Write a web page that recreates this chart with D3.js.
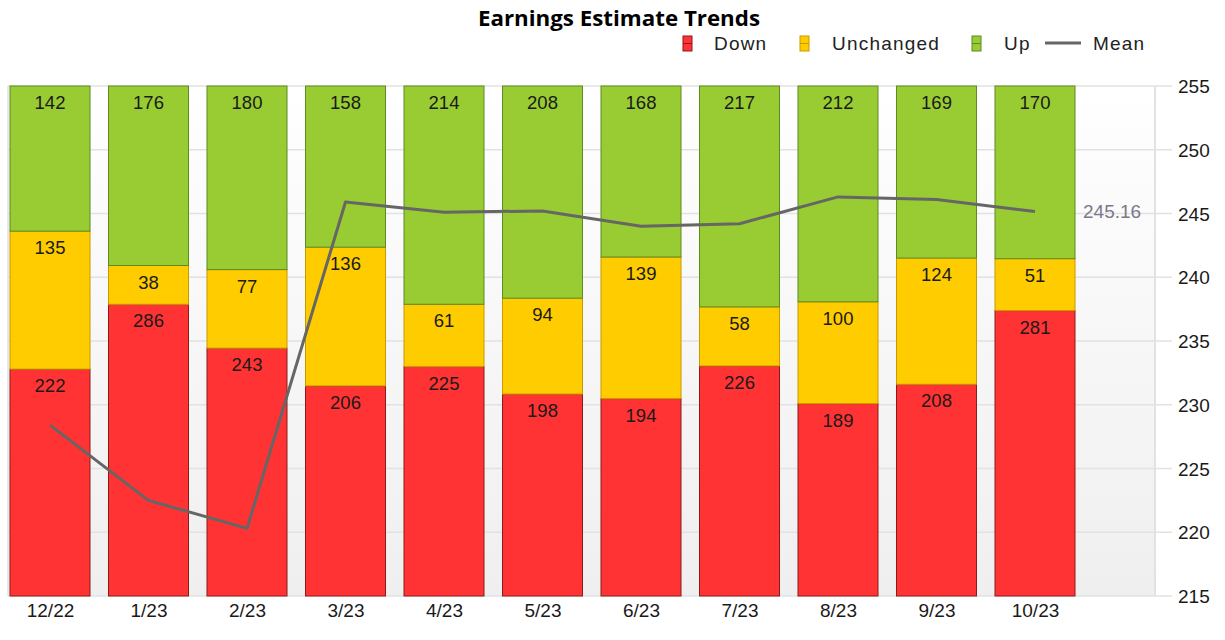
<!DOCTYPE html>
<html><head><meta charset="utf-8">
<script src="https://cdn.jsdelivr.net/npm/d3@7"></script>
<style>body{margin:0;background:#fff}svg{display:block}</style>
</head><body>
<svg id="c" width="1225" height="640"></svg>
<script>
const categories = ["12/22","1/23","2/23","3/23","4/23","5/23","6/23","7/23","8/23","9/23","10/23"];
const down = [222,286,243,206,225,198,194,226,189,208,281];
const unchanged = [135,38,77,136,61,94,139,58,100,124,51];
const up = [142,176,180,158,214,208,168,217,212,169,170];
const mean = [228.4,222.5,220.3,245.9,245.1,245.2,244.0,244.2,246.3,246.1,245.16];
const meanTicks = [215,220,225,230,235,240,245,250,255];
const seriesNames = ["Down","Unchanged","Up"];
const fills = {Down:"#ff3333",Unchanged:"#ffcc00",Up:"#99cc33"};
const strokes = {Down:"#8b1a1a",Unchanged:"#c79a00",Up:"#5f8a22"};

const svg = d3.select("#c");
const font = "'Liberation Sans', Arial, sans-serif";
const plot = {l:8, r:1155, t:86, b:596};

const table = categories.map((c,i)=>({cat:c, Down:down[i], Unchanged:unchanged[i], Up:up[i]}));
const stacked = d3.stack().keys(seriesNames).offset(d3.stackOffsetExpand)(table);

const x = d3.scalePoint().domain(categories).range([50,1035]);
const barW = 80;
const yPct = d3.scaleLinear().domain([0,1]).range([plot.b, plot.t]);
const yMean = d3.scaleLinear().domain([215,255]).range([plot.b, plot.t]);

// background gradient
const defs = svg.append("defs");
const g = defs.append("linearGradient").attr("id","bg").attr("x1",0).attr("y1",0).attr("x2",0).attr("y2",1);
g.append("stop").attr("offset","0%").attr("stop-color","#ffffff");
g.append("stop").attr("offset","100%").attr("stop-color","#efefef");
svg.append("rect").attr("x",plot.l).attr("y",plot.t).attr("width",plot.r-plot.l).attr("height",plot.b-plot.t).attr("fill","url(#bg)");

// gridlines + right axis
const axis = d3.axisRight(yMean).tickValues(meanTicks).tickSize(0).tickPadding(0);
const ax = svg.append("g").attr("transform",`translate(${1178},0)`).call(axis);
ax.select(".domain").remove();
ax.selectAll("text").attr("font-family",font).attr("font-size",19).attr("fill","#1a1a1a").attr("x",0).attr("dy","0.35em");
svg.append("g").selectAll("line").data(meanTicks).join("line")
  .attr("x1",plot.l).attr("x2",1172).attr("y1",d=>yMean(d)).attr("y2",d=>yMean(d))
  .attr("stroke","#e2e2e2").attr("stroke-width",1.5);
svg.append("line").attr("x1",plot.r).attr("x2",plot.r).attr("y1",plot.t).attr("y2",plot.b).attr("stroke","#e2e2e2").attr("stroke-width",2);
svg.append("line").attr("x1",plot.l).attr("x2",plot.l).attr("y1",plot.t).attr("y2",plot.b).attr("stroke","#e2e2e2").attr("stroke-width",1.5);

// bars
const layers = svg.append("g").selectAll("g").data(stacked).join("g");
layers.selectAll("rect").data(d=>d.map(p=>({key:d.key,p}))).join("rect")
  .attr("x",d=>x(d.p.data.cat)-barW/2).attr("width",barW)
  .attr("y",d=>yPct(d.p[1])).attr("height",d=>yPct(d.p[0])-yPct(d.p[1]))
  .attr("fill",d=>fills[d.key]).attr("stroke",d=>strokes[d.key]).attr("stroke-width",1);
layers.selectAll("text").data(d=>d.map(p=>({key:d.key,p}))).join("text")
  .attr("x",d=>x(d.p.data.cat)).attr("y",d=>yPct(d.p[1])+23)
  .attr("text-anchor","middle").attr("font-family",font).attr("font-size",18.5).attr("fill","#1a1a1a")
  .text(d=>d.p.data[d.key]);

// mean line
const line = d3.line().x((d,i)=>x(categories[i])).y(d=>yMean(d));
svg.append("path").datum(mean).attr("d",line).attr("fill","none").attr("stroke","#666").attr("stroke-width",3).attr("stroke-linejoin","round");
svg.append("text").attr("x",1083).attr("y",yMean(mean[mean.length-1])).attr("dy","0.35em")
  .attr("font-family",font).attr("font-size",19).attr("fill","#7a7a8a").text(mean[mean.length-1].toFixed(2));

// x labels
const xa = svg.append("g").attr("transform",`translate(0,${plot.b})`).call(d3.axisBottom(x).tickSize(0).tickPadding(8));
xa.select(".domain").remove();
xa.selectAll("text").attr("font-family",font).attr("font-size",19).attr("fill","#1a1a1a");

// title
svg.append("text").attr("x",619).attr("y",26).attr("text-anchor","middle")
  .attr("font-family","'Open Sans', sans-serif").attr("font-weight","bold").attr("font-size",22)
  .attr("textLength",282).attr("lengthAdjust","spacingAndGlyphs").attr("fill","#000").text("Earnings Estimate Trends");

// legend
const leg = svg.append("g").attr("font-family",font).attr("font-size",19).attr("fill","#222");
const items = [{n:"Down",x:683,tx:714},{n:"Unchanged",x:800,tx:832},{n:"Up",x:972,tx:1004}];
items.forEach(it=>{
  leg.append("rect").attr("x",it.x).attr("y",36).attr("width",9).attr("height",15).attr("fill",fills[it.n]).attr("stroke",strokes[it.n]);
  leg.append("line").attr("x1",it.x).attr("x2",it.x+9).attr("y1",43.5).attr("y2",43.5).attr("stroke",strokes[it.n]);
  leg.append("text").attr("x",it.tx).attr("y",50).attr("letter-spacing","1.2px").text(it.n);
});
leg.append("line").attr("x1",1045).attr("x2",1081).attr("y1",43).attr("y2",43).attr("stroke","#666").attr("stroke-width",3);
leg.append("text").attr("x",1093).attr("y",50).attr("letter-spacing","1.2px").text("Mean");
</script>
</body></html>
